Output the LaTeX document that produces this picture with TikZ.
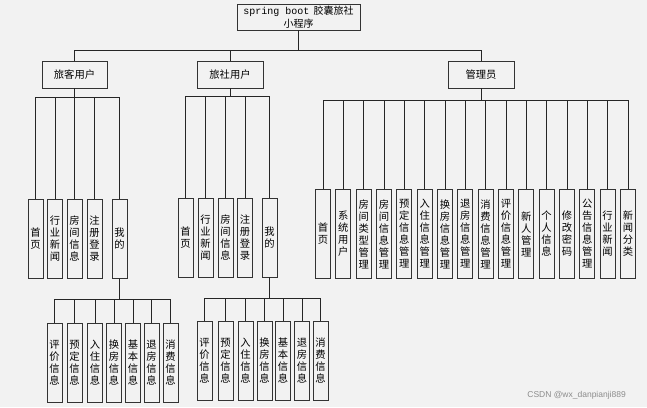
\documentclass[tikz,border=0pt]{standalone}
\usepackage{fontspec}
\newfontfamily\cjk{Noto Sans CJK SC}
\newfontfamily\monof{Liberation Mono}
\newfontfamily\wmfont{Liberation Sans}
\definecolor{bgc}{HTML}{F2F2F2}
\tikzset{
 box/.style={draw=black!80, line width=0.9pt, fill=bgc, inner sep=0pt, align=center, font=\cjk\fontsize{10.3}{12}\selectfont},
 hbox/.style={box, minimum width=65pt, minimum height=27pt},
 vbox/.style={box, minimum width=15pt, minimum height=79pt},
 rbox/.style={box, minimum width=15pt, minimum height=89pt},
 link/.style={draw=black!85, line width=0.9pt}
}
\begin{document}
\begin{tikzpicture}[x=1pt,y=-1pt]
\fill[bgc] (0,0) rectangle (647,407);
\useasboundingbox (0,0) rectangle (647,407);
% root
\node[box, minimum width=123pt, minimum height=26pt, font=\cjk\fontsize{10}{13}\selectfont] (root) at (298.5,17) {{\monof spring boot}\hspace{4pt}胶囊旅社\\小程序};
% level 1
\node[hbox] (a) at (74.5,74.5) {旅客用户};
\node[hbox, minimum width=66pt] (b) at (230,74.5) {旅社用户};
\node[hbox, minimum width=66pt] (c) at (481,74.5) {管理员};
\foreach \n in {a,b,c} \draw[link] (root.south) -- (root.south |- 0,50) -| (\n.north);
% left branch
\foreach \t [count=\i] in {{首\\页},{行\\业\\新\\闻},{房\\间\\信\\息},{注\\册\\登\\录},{我\\的}} {
  \pgfmathsetmacro\xx{{35.5,55,74.5,94.5,119.5}[\i-1]}
  \node[vbox, anchor=north] (a\i) at (\xx,199) {\t};
  \draw[link] (a.south) -- (a.south |- 0,97) -| (a\i.north);
}
% middle branch
\foreach \t [count=\i] in {{首\\页},{行\\业\\新\\闻},{房\\间\\信\\息},{注\\册\\登\\录},{我\\的}} {
  \pgfmathsetmacro\xx{{185.5,205.5,225.5,245,269.5}[\i-1]}
  \node[vbox, anchor=north] (b\i) at (\xx,197.5) {\t};
  \draw[link] (b.south) -- (b.south |- 0,96) -| (b\i.north);
}
% right branch
\foreach \t [count=\i] in {{首\\页},{系\\统\\用\\户},{房\\间\\类\\型\\管\\理},{房\\间\\信\\息\\管\\理},{预\\定\\信\\息\\管\\理},{入\\住\\信\\息\\管\\理},{换\\房\\信\\息\\管\\理},{退\\房\\信\\息\\管\\理},{消\\费\\信\\息\\管\\理},{评\\价\\信\\息\\管\\理},{新\\人\\管\\理},{个\\人\\信\\息},{修\\改\\密\\码},{公\\告\\信\\息\\管\\理},{行\\业\\新\\闻},{新\\闻\\分\\类}} {
  \pgfmathsetmacro\xx{323+20.33*(\i-1)}
  \node[rbox, anchor=north] (c\i) at (\xx,189) {\t};
  \draw[link] (c.south) -- (c.south |- 0,100) -| (c\i.north);
}
% bottom left subtree
\foreach \t [count=\i] in {{评\\价\\信\\息},{预\\定\\信\\息},{入\\住\\信\\息},{换\\房\\信\\息},{基\\本\\信\\息},{退\\房\\信\\息},{消\\费\\信\\息}} {
  \pgfmathsetmacro\xx{{54.5,74.5,95,114,133,151.5,170.5}[\i-1]}
  \node[vbox, anchor=north] (d\i) at (\xx,323) {\t};
  \draw[link] (a5.south) -- (a5.south |- 0,299) -| (d\i.north);
}
% bottom middle subtree
\foreach \t [count=\i] in {{评\\价\\信\\息},{预\\定\\信\\息},{入\\住\\信\\息},{换\\房\\信\\息},{基\\本\\信\\息},{退\\房\\信\\息},{消\\费\\信\\息}} {
  \pgfmathsetmacro\xx{{204.5,225.5,245.5,264.5,283,302,320.5}[\i-1]}
  \node[vbox, anchor=north] (e\i) at (\xx,321) {\t};
  \draw[link] (b5.south) -- (b5.south |- 0,298) -| (e\i.north);
}
% watermark
\node[font=\wmfont\fontsize{8.5}{10}\selectfont, text=black!45, anchor=east, inner sep=0pt] (wm) at (626,395) {CSDN @wx\_danpianji889};
\end{tikzpicture}
\end{document}
